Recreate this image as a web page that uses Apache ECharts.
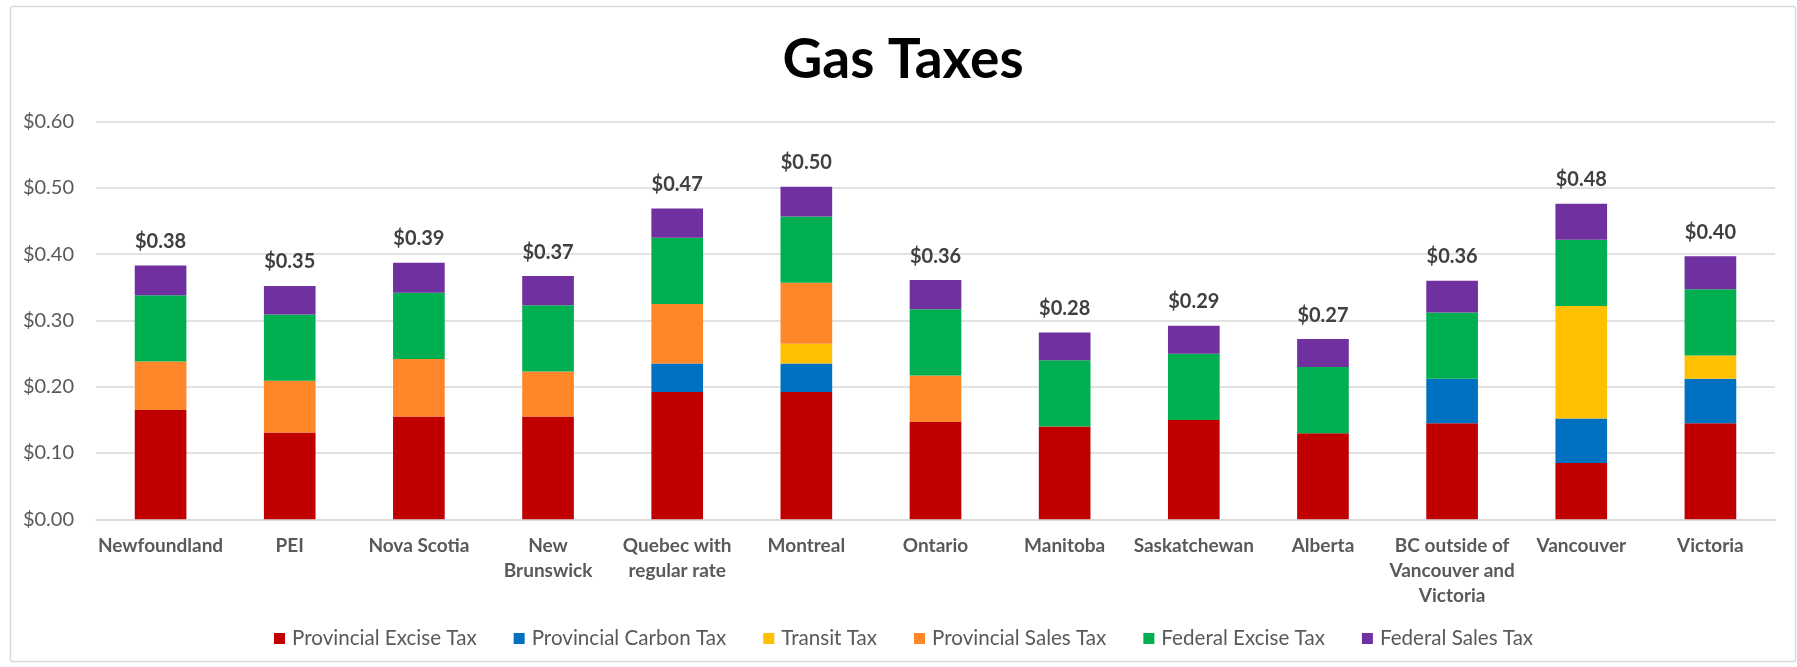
<!DOCTYPE html>
<html>
<head>
<meta charset="utf-8">
<script src="https://cdn.jsdelivr.net/npm/echarts@6/dist/echarts.min.js"></script>
<style>
html,body{margin:0;padding:0;background:#fff;}
#chart{width:1797px;height:667px;}
</style>
</head>
<body>
<div id="chart"></div>
<script>
const categories = ['Newfoundland', 'PEI', 'Nova Scotia', 'New\nBrunswick', 'Quebec with\nregular rate', 'Montreal', 'Ontario', 'Manitoba', 'Saskatchewan', 'Alberta', 'BC outside of\nVancouver and\nVictoria', 'Vancouver', 'Victoria'];
const provincialExcise = [0.165, 0.131, 0.155, 0.155, 0.192, 0.192, 0.147, 0.140, 0.150, 0.130, 0.145, 0.085, 0.145];
const provincialCarbon = [0, 0, 0, 0, 0.043, 0.043, 0, 0, 0, 0, 0.067, 0.067, 0.067];
const transitTax = [0, 0, 0, 0, 0, 0.030, 0, 0, 0, 0, 0, 0.170, 0.035];
const provincialSales = [0.073, 0.078, 0.087, 0.068, 0.090, 0.092, 0.070, 0, 0, 0, 0, 0, 0];
const federalExcise = [0.100, 0.100, 0.100, 0.100, 0.100, 0.100, 0.100, 0.100, 0.100, 0.100, 0.100, 0.100, 0.100];
const federalSales = [0.045, 0.043, 0.045, 0.044, 0.044, 0.045, 0.044, 0.042, 0.042, 0.042, 0.048, 0.054, 0.050];
const seriesNames = ['Provincial Excise Tax', 'Provincial Carbon Tax', 'Transit Tax', 'Provincial Sales Tax', 'Federal Excise Tax', 'Federal Sales Tax'];
const yTicks = [0, 0.1, 0.2, 0.3, 0.4, 0.5, 0.6];

const seriesData = [provincialExcise, provincialCarbon, transitTax, provincialSales, federalExcise, federalSales];
const colors = ['#C00000', '#0070C0', '#FFC000', '#FF8629', '#00B050', '#7030A0'];
const totals = categories.map((c, i) => seriesData.reduce((s, arr) => s + arr[i], 0));

const chart = echarts.init(document.getElementById('chart'), null, {renderer: 'canvas'});
const FONT = 'Lato';

const series = seriesData.map((arr, k) => {
  const s = {
    name: seriesNames[k],
    type: 'bar',
    stack: 'total',
    barWidth: '40%',
    data: arr,
    itemStyle: {color: colors[k]},
    emphasis: {disabled: true}
  };
  if (k === seriesData.length - 1) {
    s.label = {
      show: true,
      position: 'top',
      distance: 14,
      formatter: (p) => '$' + totals[p.dataIndex].toFixed(2),
      color: '#404040',
      fontFamily: FONT,
      fontWeight: 'bold',
      fontSize: 20
    };
  }
  return s;
});

chart.setOption({
  animation: false,
  backgroundColor: '#fff',
  color: colors,
  title: {
    text: 'Gas Taxes',
    left: 903,
    top: 33,
    padding: 0,
    textAlign: 'center',
    textStyle: {fontFamily: FONT, fontWeight: 'bold', fontSize: 55, color: '#000', lineHeight: 55}
  },
  graphic: [{
    type: 'rect',
    shape: {x: 10.5, y: 6.5, width: 1785, height: 655, r: 2},
    style: {fill: 'none', stroke: '#d9d9d9', lineWidth: 1.5},
    silent: true,
    z: -10
  }],
  legend: {
    data: seriesNames,
    left: 274,
    top: 628,
    padding: 0,
    itemWidth: 11,
    itemHeight: 11,
    itemGap: 37,
    icon: 'rect',
    textStyle: {fontFamily: FONT, fontSize: 20.6, color: '#595959', padding: [0, 0, 0, 2]}
  },
  grid: {left: 96, right: 22, top: 121.7, bottom: 147.7, containLabel: false},
  xAxis: {
    type: 'category',
    data: categories,
    axisTick: {show: false},
    axisLine: {lineStyle: {color: '#d9d9d9', width: 1.5}},
    axisLabel: {
      interval: 0,
      margin: 14,
      fontFamily: FONT,
      fontWeight: 'bold',
      fontSize: 19,
      lineHeight: 25,
      color: '#595959'
    }
  },
  yAxis: {
    type: 'value',
    min: yTicks[0],
    max: yTicks[yTicks.length - 1],
    interval: 0.1,
    axisLine: {show: false},
    axisTick: {show: false},
    splitLine: {lineStyle: {color: '#d9d9d9', width: 1.5}},
    axisLabel: {
      margin: 22,
      fontFamily: FONT,
      fontSize: 20,
      color: '#595959',
      formatter: (v) => '$' + v.toFixed(2)
    }
  },
  series: series
});
</script>
</body>
</html>
